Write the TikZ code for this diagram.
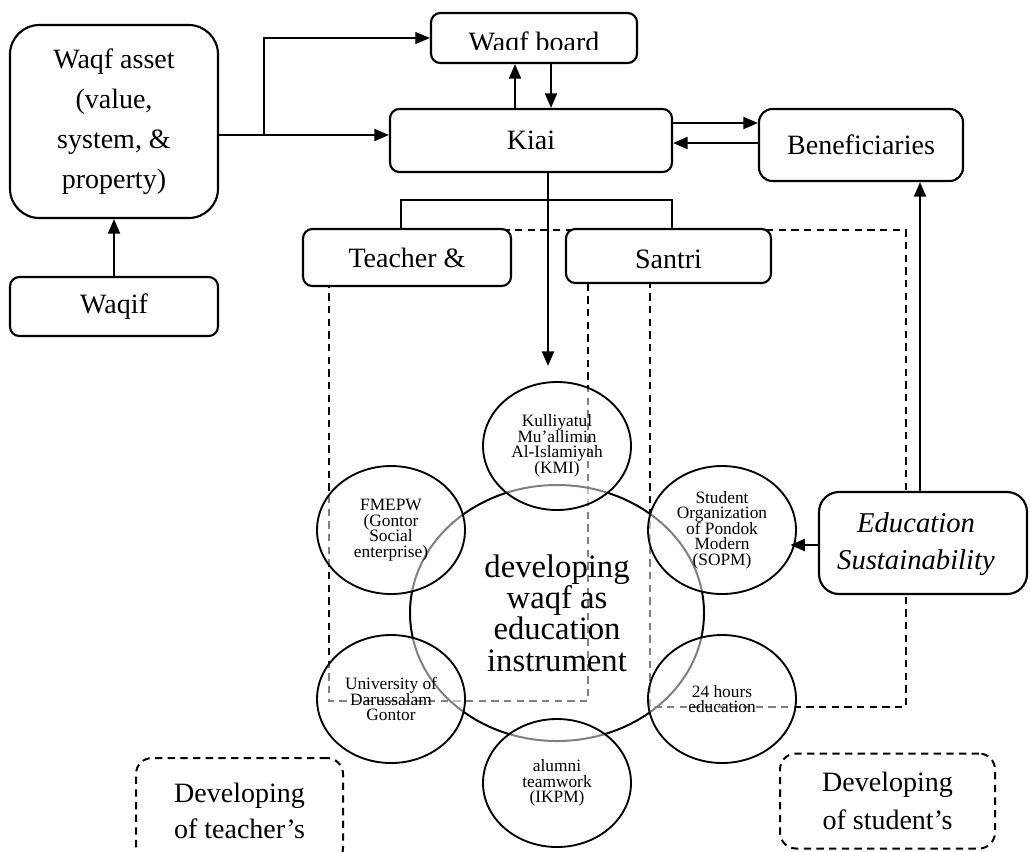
\documentclass[tikz,border=0pt]{standalone}
\usepackage{fontspec}
\setmainfont{Liberation Serif}
\usetikzlibrary{arrows.meta,shapes.geometric}
\pgfdeclarelayer{bg}
\pgfsetlayers{bg,main}
\newcommand\circfont{\fontsize{13}{11.6}\selectfont\lineskiplimit-6pt\relax}
\begin{document}
\begin{tikzpicture}[x=0.75pt,y=-0.75pt,
  box/.style={draw,line width=1.6pt,fill=white,rounded corners=7pt,inner sep=0pt,align=center,font=\fontsize{21}{30}\selectfont},
  arr/.style={line width=1.7pt,-{Triangle[length=11pt,width=9pt]}},
  thinline/.style={line width=0.9pt},
  dsh/.style={line width=1.5pt,dash pattern=on 5.5pt off 4pt},
  circ/.style={ellipse,draw=black,draw opacity=1,line width=1.4pt,fill=white,fill opacity=0.5,text opacity=1,inner sep=0pt,align=center,minimum width=111pt,minimum height=96pt,font=\circfont},
]
\useasboundingbox (0,0) rectangle (1030,851);
\clip (0,0) rectangle (1030,851);

% boxes
\node[box,rounded corners=22pt,minimum width=156pt,minimum height=144.75pt] (asset) at (114,121.5) {Waqf asset\\(value,\\system, \&\\property)};
\node[box,minimum width=156pt,minimum height=44.25pt] (waqif) at (114,306.5) {Waqif};
\node[box,minimum width=154.5pt,minimum height=37.5pt] (board) at (534,38) {};
\begin{scope}
  \clip (431,13) rectangle (637,49.5);
  \node[anchor=base,inner sep=0pt,font=\fontsize{21}{30}\selectfont] (boardtxt) at (534,51.5) {Waqf board};
\end{scope}
\node[box,minimum width=211.5pt,minimum height=47.25pt] (kiai) at (531,140.5) {Kiai};
\node[box,minimum width=153pt,minimum height=54pt,rounded corners=10pt] (benef) at (861,145) {Beneficiaries};
\node[box,minimum width=156pt,minimum height=42.75pt] (teacher) at (407,257.5) {Teacher \&};
\node[box,minimum width=153.75pt,minimum height=40.5pt] (santri) at (668.5,256) {};
\node[anchor=base,inner sep=0pt,font=\fontsize{21}{30}\selectfont] (santritxt) at (668.5,268.5) {Santri};
\node[box,minimum width=156pt,minimum height=76.5pt,rounded corners=15pt] (edu) at (923,543) {};
\node[inner sep=0pt,align=center,font=\fontsize{21.5}{27.75}\selectfont\itshape] (edutxt) at (916,544) {Education\\Sustainability};
\node[box,dsh,fill=none,minimum width=155.25pt,minimum height=79.5pt,rounded corners=12pt,font=\fontsize{21}{27}\selectfont] (devT) at (239.5,811) {Developing\\of teacher’s};
\node[box,dsh,fill=none,minimum width=161.25pt,minimum height=71.25pt,rounded corners=12pt,font=\fontsize{21}{28.5}\selectfont] (devS) at (887.5,801) {Developing\\of student’s};

% dashed frames (behind)
\begin{pgfonlayer}{bg}
  \draw[dsh] (329,230) rectangle (588,701);
  \draw[dsh] (650,230) rectangle (906,707);
\end{pgfonlayer}

% core circle and satellites
\node[circ,line width=1.5pt,minimum width=220.5pt,minimum height=192pt,font=\fontsize{24.5}{23.5}\selectfont] (core) at (557,613) {developing\\waqf as\\education\\instrument};
\node[circ] (kmi) at (557,446) {Kulliyatul\\Mu'allimin\\Al-Islamiyah\\(KMI)};
\node[circ] (fmepw) at (391,530) {FMEPW\\(Gontor\\Social\\enterprise)};
\node[circ] (univ) at (391,699) {University of\\Darussalam\\Gontor};
\node[circ] (alumni) at (557,783) {alumni\\teamwork\\(IKPM)};
\node[circ] (sopm) at (722,530) {Student\\Organization\\of Pondok\\Modern\\(SOPM)};
\node[circ] (hours) at (722,699) {24 hours\\education};

% connectors
\coordinate (j) at (264,135);
\coordinate (xu) at (515,0);
\coordinate (xd) at (551,0);
\coordinate (yr) at (0,123);
\coordinate (yl) at (0,143);
\coordinate (ktip) at (548,366);
\coordinate (xe) at (920,0);
\coordinate (ye) at (0,545);
\coordinate (bt) at (401,200);
\coordinate (bs) at (672,200);

\draw[arr] (waqif.north) -- (asset.south);
\draw[line width=1.7pt] (asset.east |- j) -- (j);
\draw[arr] (j) -- (kiai.west |- j);
\draw[thinline,-{Triangle[length=11pt,width=9pt]}] (j) |- (board.west);
\draw[arr] (kiai.north -| xu) -- (board.south -| xu);
\draw[arr] (board.south -| xd) -- (kiai.north -| xd);
\draw[arr] (kiai.east |- yr) -- (benef.west |- yr);
\draw[arr] (benef.west |- yl) -- (kiai.east |- yl);
\draw[arr] (kiai.south -| ktip) -- (ktip);
\draw[thinline] (teacher.north -| bt) -- (bt) -- (bs) -- (santri.north -| bs);
\draw[arr] (edu.north -| xe) -- (benef.south -| xe);
\draw[arr] (edu.west |- ye) -- ([xshift=-5pt]sopm.east |- ye);
\end{tikzpicture}
\end{document}
